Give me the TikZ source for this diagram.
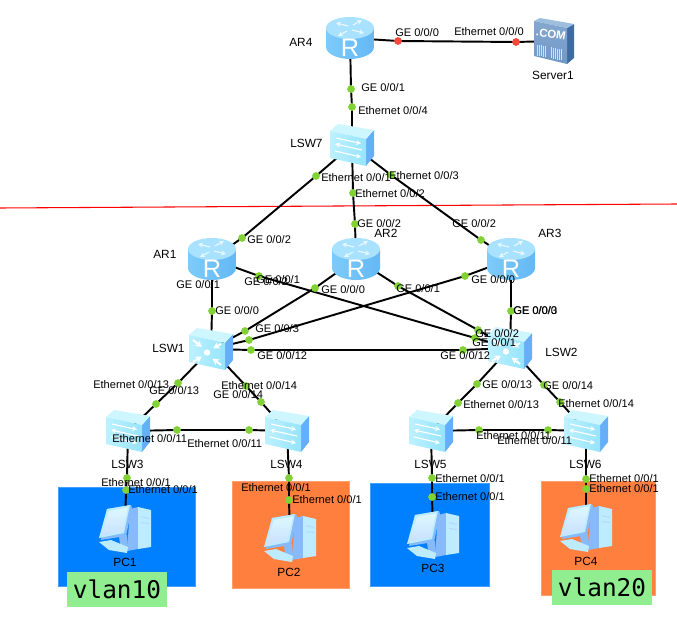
\documentclass[tikz,border=0pt]{standalone}
\usepackage{fontspec}
\setmainfont{Liberation Sans}
\newfontfamily\monofnt{DejaVu Sans Mono}
\usetikzlibrary{arrows.meta}
\definecolor{linkdot}{HTML}{82D235}
\definecolor{peerdot}{HTML}{F4493A}
\definecolor{vlanblue}{HTML}{0080FF}
\definecolor{vlanorange}{HTML}{FF7F3F}
\definecolor{vlantag}{HTML}{90EE90}
\definecolor{capsidel}{HTML}{7CCBFA}
\definecolor{capsidem}{HTML}{A6E2FF}
\definecolor{capsider}{HTML}{64B8F4}
\definecolor{captop}{HTML}{A8E2FF}
\definecolor{boxfront}{HTML}{BDF1FF}
\definecolor{boxfrontb}{HTML}{96E4FC}
\definecolor{boxtop}{HTML}{CDF6FF}
\definecolor{boxside}{HTML}{66AEF7}
\definecolor{srvfront}{HTML}{7098C6}
\definecolor{srvside}{HTML}{3F6C9E}
\definecolor{srvtop}{HTML}{9DBEDD}
\definecolor{pcframe}{HTML}{BDEBFF}
\definecolor{pcscreen}{HTML}{DDF8FF}
\definecolor{pcshade}{HTML}{86BAFB}
\tikzset{
  x=0.75pt, y=-0.75pt,
  link/.style={line width=1.45pt, black, line join=round},
  portdot/.style={circle, fill=linkdot, draw=none, minimum size=5.8pt, inner sep=0pt},
  portlabel/.style={anchor=west, inner sep=0pt, font=\fontsize{8.3}{9}\selectfont},
  devlabel/.style={anchor=west, inner sep=0pt, font=\fontsize{8.9}{10}\selectfont},
  devname/.style={anchor=center, inner sep=0pt, font=\fontsize{8.9}{10}\selectfont},
  zone/.style={draw=#1!75!white, line width=0.6pt, fill=#1},
  tagbox/.style={fill=vlantag, draw=none, minimum width=75pt, minimum height=26.2pt, inner sep=0pt,
    font=\monofnt\fontsize{18.3}{20}\selectfont},
  glyph/.style={white, line width=0.85pt, -{Stealth[length=3.6pt,width=3.8pt]}},
  router/.pic={
    \path[left color=capsidel, middle color=capsidem, right color=capsider]
      (-24,-10) -- (-24,9) .. controls (-24,16) and (-12,21) .. (0,21)
      .. controls (12,21) and (24,16) .. (24,9) -- (24,-10) -- cycle;
    \fill[captop] (0,-10) ellipse [x radius=24, y radius=11];
    \begin{scope}[glyph, white!75!captop]
      \draw (-2,-12) -- (-14,-15);
      \draw (3,-13) -- (12,-18);
      \draw (2,-8) -- (14,-5);
      \draw (-3,-7) -- (-12,-2);
    \end{scope}
    \node[name=-letter, white, inner sep=0pt, font=\fontsize{19}{19}\selectfont] at (0,10) {R};
  },
  boxbody/.pic={
    \fill[boxside] (14,-6) -- (22,-15) -- (22,11) -- (14,21) -- cycle;
    \fill[boxtop] (-22,-14) -- (-14,-21) -- (22,-15) -- (14,-6) -- cycle;
    \path[left color=boxfront, right color=boxfrontb] (-22,-14) -- (14,-6) -- (14,21) -- (-22,13) -- cycle;
  },
  switchbox/.pic={
    \pic {boxbody};
    \begin{scope}[glyph]
      \draw (-16,-7) -- (9,-1.5);
      \draw (10,5) -- (-17,-1);
      \draw (-17,6) -- (9,12);
    \end{scope}
  },
  coreswitch/.pic={
    \pic {boxbody};
    \fill[white] (-4,3.5) circle (3.2);
    \begin{scope}[glyph, line width=1.5pt, -{Stealth[length=5pt,width=5.4pt]}]
      \draw (-18,-9) -- (-9,-2);
      \draw (10,-5) -- (2,-0.5);
      \draw (-18,13) -- (-9,7.5);
      \draw (10,16) -- (1.5,9.5);
    \end{scope}
  },
  server/.pic={
    \fill[srvside] (13,-13) -- (20,-17) -- (20,17) -- (13,23) -- cycle;
    \fill[srvtop] (-20,-20) -- (-14,-23) -- (20,-17) -- (13,-13) -- cycle;
    \path[top color=srvfront!85!white, bottom color=srvfront] (-20,-20) -- (13,-13) -- (13,23) -- (-20,15) -- cycle;
    \node[name=-mark, white, inner sep=0pt, rotate=-9, font=\bfseries\fontsize{8.6}{9}\selectfont] at (-3,-7) {.COM};
    \foreach \bx in {-17,-15,-13,-11,-9,-3,-1,1,3,5,7}
      \draw[white!70!srvfront, line width=0.5pt] (\bx,{3+(\bx+20)*0.2}) -- (\bx,{14+(\bx+20)*0.2});
  },
  desktop/.pic={
    \fill[pcshade] (5,-19) -- (13,-21) -- (13,21) -- (2,23) -- cycle;
    \fill[pcframe] (13,-21) -- (26,-18) -- (26,19) -- (13,21) -- cycle;
    \fill[pcshade!60!white] (16,-12) -- (24,-10) -- (24,-9) -- (16,-11) -- cycle;
    \fill[pcshade!60!white] (16,-6) -- (24,-5) -- (24,-4) -- (16,-5) -- cycle;
    \fill[pcshade] (-6,8) -- (2,7) -- (3,19) -- (-5,17) -- cycle;
    \fill[pcframe] (-26,14) -- (-14,12) -- (3,19) -- (2,25) -- (-16,22) -- cycle;
    \fill[pcshade] (-18,-19) -- (6,-23) -- (7,-20) -- (1,8) -- (-24,12) -- cycle;
    \fill[pcframe] (-18,-19) -- (5,-23) -- (-1,5) -- (-26,10) -- cycle;
    \path[top color=pcscreen, bottom color=pcshade!45!white] (-16,-17) -- (3,-20.5) -- (-2.5,3) -- (-24,7.5) -- cycle;
  },
}
\begin{document}
\begin{tikzpicture}
\useasboundingbox (0,0) rectangle (677,620);

% VLAN zones behind the hosts
\node[name=zoneA, zone=vlanblue, anchor=north west, minimum width=102.75pt, minimum height=74.25pt, inner sep=0pt] at (58,487) {};
\node[name=zoneB, zone=vlanorange, anchor=north west, minimum width=87.75pt, minimum height=80.25pt, inner sep=0pt] at (232,481) {};
\node[name=zoneC, zone=vlanblue, anchor=north west, minimum width=89.25pt, minimum height=77.25pt, inner sep=0pt] at (370,483) {};
\node[name=zoneD, zone=vlanorange, anchor=north west, minimum width=85.5pt, minimum height=85.5pt, inner sep=0pt] at (541,481) {};

% Device positions
\coordinate (AR4) at (350,38);
\coordinate (Server1) at (554,41);
\coordinate (LSW7) at (352,145);
\coordinate (AR1) at (212,259);
\coordinate (AR2) at (356,259);
\coordinate (AR3) at (511,259);
\coordinate (LSW1) at (211,349);
\coordinate (LSW2) at (510,348);
\coordinate (LSW3) at (128,431);
\coordinate (LSW4) at (287,431);
\coordinate (LSW5) at (431,431);
\coordinate (LSW6) at (586,431);
\coordinate (PC1) at (125,528);
\coordinate (PC2) at (290,537);
\coordinate (PC3) at (433,534);
\coordinate (PC4) at (586,527);

% Boundary between the upper and lower network
\coordinate (cutL) at (0,208);
\coordinate (cutR) at (677,204);
\draw[red, line width=0.8pt] (cutL) -- (cutR);

% Port markers, placed on their links
\foreach \nm/\px/\py in {
  a/398/41, b/516/42, c/351/89, d/352/107,
  e/316/176, f/242/238, g/353/193, h/355/224, i/391/175, j/481/240,
  k/212/311, l/259/276, m/475/338, n/315/288, o/245/331,
  p/398/286, q/478/330, r/465/276, s/249/340, t/511/311,
  u/251/350, v/463/350,
  w/178/383, x/156/404, y/246/386, z/261/402,
  aa/477/384, ab/458/403, ac/544/385, ad/560/402,
  ae/177/430, af/249/430, ag/479/430, ah/548/430,
  ai/127/478, aj/126/490, ak/289/478, al/289/500,
  am/432/478, an/432/497, ao/586/479, ap/586/489}
  \coordinate (p\nm) at (\px,\py);

% Links, each through its two port markers
\foreach \fr/\pa/\pb/\to in {
  AR4/pa/pb/Server1, AR4/pc/pd/LSW7,
  LSW7/pe/pf/AR1, LSW7/pg/ph/AR2, LSW7/pi/pj/AR3,
  AR1/pk/pk/LSW1, AR1/pl/pm/LSW2,
  AR2/pn/po/LSW1, AR2/pp/pq/LSW2,
  AR3/pr/ps/LSW1, AR3/pt/pt/LSW2,
  LSW1/pu/pv/LSW2,
  LSW1/pw/px/LSW3, LSW1/py/pz/LSW4,
  LSW2/paa/pab/LSW5, LSW2/pac/pad/LSW6,
  LSW3/pae/paf/LSW4, LSW5/pag/pah/LSW6,
  LSW3/pai/paj/PC1, LSW4/pak/pal/PC2,
  LSW5/pam/pan/PC3, LSW6/pao/pap/PC4}
  \draw[link] (\fr) -- (\pa) -- (\pb) -- (\to);

% Device icons
\pic (iconAR4) at (AR4) {router};
\pic (iconAR1) at (AR1) {router};
\pic (iconAR2) at (AR2) {router};
\pic (iconAR3) at (AR3) {router};
\pic (iconSrv) at (Server1) {server};
\pic (iconLSW7) at (LSW7) {switchbox};
\pic (iconLSW1) at (LSW1) {coreswitch};
\pic (iconLSW2) at (LSW2) {coreswitch};
\pic (iconLSW3) at (LSW3) {switchbox};
\pic (iconLSW4) at (LSW4) {switchbox};
\pic (iconLSW5) at (LSW5) {switchbox};
\pic (iconLSW6) at (LSW6) {switchbox};
\pic (iconPC1) at (PC1) {desktop};
\pic (iconPC2) at (PC2) {desktop};
\pic (iconPC3) at (PC3) {desktop};
\pic (iconPC4) at (PC4) {desktop};

% Port dots
\foreach \nm in {a,b}
  \node[portdot, fill=peerdot, name=dot\nm] at (p\nm) {};
\foreach \nm in {c,d,e,f,g,h,i,j,k,l,m,n,o,p,q,r,s,t,u,v,w,x,y,z,aa,ab,ac,ad,ae,af,ag,ah,ai,aj,ak,al,am,an,ao,ap}
  \node[portdot, name=dot\nm] at (p\nm) {};

% Port labels
\foreach \px/\py/\txt [count=\n] in {
  395/33/GE 0\slash 0\slash 0, 454/32/Ethernet 0\slash 0\slash 0,
  361/88/GE 0\slash 0\slash 1, 358/111/Ethernet 0\slash 0\slash 4,
  321/178/Ethernet 0\slash 0\slash 1, 355/194/Ethernet 0\slash 0\slash 2, 389/176/Ethernet 0\slash 0\slash 3,
  247/240/GE 0\slash 0\slash 2, 357/224/GE 0\slash 0\slash 2, 452/224/GE 0\slash 0\slash 2,
  176/285/GE 0\slash 0\slash 1, 215/311/GE 0\slash 0\slash 0,
  244/282/GE 0\slash 0\slash 2, 256/280/GE 0\slash 0\slash 1,
  321/290/GE 0\slash 0\slash 0, 396/289/GE 0\slash 0\slash 1,
  471/280/GE 0\slash 0\slash 0, 255/329/GE 0\slash 0\slash 3,
  513/311/GE 0\slash 0\slash 0, 513.4/311/GE 0\slash 0\slash 3,
  475/334/GE 0\slash 0\slash 2, 472/343/GE 0\slash 0\slash 1,
  257/356/GE 0\slash 0\slash 12, 440/356/GE 0\slash 0\slash 12,
  93/385/Ethernet 0\slash 0\slash 13, 149/391/GE 0\slash 0\slash 13,
  221/386/Ethernet 0\slash 0\slash 14, 213/395/GE 0\slash 0\slash 14,
  482/385/GE 0\slash 0\slash 13, 463/405/Ethernet 0\slash 0\slash 13,
  543/386/GE 0\slash 0\slash 14, 558/404/Ethernet 0\slash 0\slash 14,
  112/439/Ethernet 0\slash 0\slash 11, 187/444/Ethernet 0\slash 0\slash 11,
  476/436/Ethernet 0\slash 0\slash 11, 497/441/Ethernet 0\slash 0\slash 11,
  101/483/Ethernet 0\slash 0\slash 1, 128/490/Ethernet 0\slash 0\slash 1,
  241/488/Ethernet 0\slash 0\slash 1, 292/500/Ethernet 0\slash 0\slash 1,
  435/479/Ethernet 0\slash 0\slash 1, 435/497/Ethernet 0\slash 0\slash 1,
  589/479/Ethernet 0\slash 0\slash 1, 589/489/Ethernet 0\slash 0\slash 1}
  \node[portlabel, name=port\n] at (\px,\py) {\def\slash{/}\txt};

% Device names
\foreach \px/\py/\txt [count=\n] in {
  289/42/AR4, 290/143/LSW7, 153/254/AR1, 374/233/AR2, 538/233/AR3,
  152/348/LSW1, 545/352/LSW2, 111/464/LSW3, 270/464/LSW4, 414/464/LSW5, 569/464/LSW6}
  \node[devlabel, name=dev\n] at (\px,\py) {\txt};
\node[devname, name=nameSrv] at (553,75) {Server1};
\node[devname, name=namePC1] at (125,562) {PC1};
\node[devname, name=namePC2] at (289,572) {PC2};
\node[devname, name=namePC3] at (433,568) {PC3};
\node[devname, name=namePC4] at (586,561) {PC4};

% VLAN tags
\node[tagbox, name=tagTen] at (117,589.5) {vlan10};
\node[tagbox, name=tagTwenty] at (602,587.5) {vlan20};
\end{tikzpicture}
\end{document}
